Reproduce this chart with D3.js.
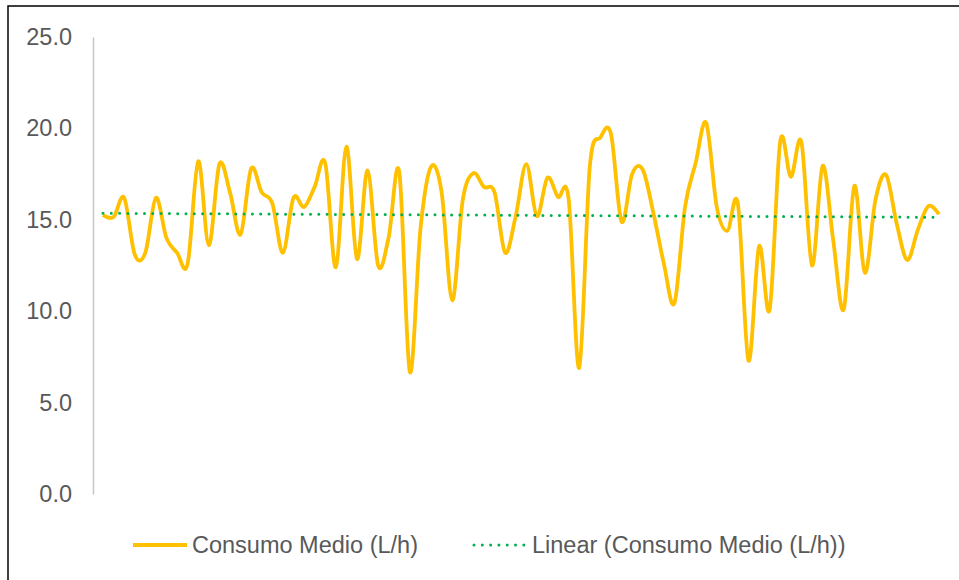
<!DOCTYPE html>
<html>
<head>
<meta charset="utf-8">
<script src="https://cdn.jsdelivr.net/npm/d3@7"></script>
<style>
  body { margin: 0; background: #fff; }
  text { font-family: "Liberation Sans", Arial, sans-serif; }
</style>
</head>
<body>
<svg id="chart" width="959" height="580"></svg>
<script>
// consumo medio (L/h), one value per sample
var consumo = [
  15.26, 15.15, 16.2, 13.1, 13.2, 16.2, 14.0, 13.2, 12.6, 18.2,
  13.6, 18.05, 16.5, 14.2, 17.8, 16.5, 15.9, 13.2, 16.2, 15.7,
  16.8, 18.1, 12.4, 19.0, 12.85, 17.7, 12.5, 14.06, 17.6, 6.67,
  14.5, 17.9, 16.5, 10.6, 16.1, 17.55, 16.8, 16.5, 13.2, 15.2,
  18.05, 15.2, 17.3, 16.25, 16.15, 6.9, 17.9, 19.5, 19.7, 14.9,
  17.5, 17.75, 15.4, 12.6, 10.45, 15.7, 18.1, 20.3, 15.7, 14.4,
  15.85, 7.3, 13.55, 10.1, 19.3, 17.35, 19.25, 12.5, 17.95, 13.9,
  10.1, 16.85, 12.1, 16.1, 17.45, 14.8, 12.8, 14.45, 15.75, 15.3
];
var yTicks = [0, 5, 10, 15, 20, 25];
var legendLabels = ["Consumo Medio (L/h)", "Linear (Consumo Medio (L/h))"];

var svg = d3.select('#chart');

var x = d3.scaleLinear().domain([0, consumo.length - 1]).range([103, 939]);
var y = d3.scaleLinear().domain([0, 25]).range([494, 37]);

// outer frame (only top/left visible in the picture)
svg.append('rect')
  .attr('x', 8).attr('y', 6).attr('width', 1200).attr('height', 1200)
  .style('fill', 'none').style('stroke', '#000').style('stroke-width', 1.5);

// y axis
var yAxis = d3.axisLeft(y).tickValues(yTicks).tickSize(0).tickPadding(21)
  .tickFormat(d3.format('.1f'));
var ga = svg.append('g').attr('transform', 'translate(93,0)').call(yAxis);
ga.select('.domain').style('stroke', '#c8c8c8').style('stroke-width', 1.5);
ga.selectAll('text').style('font-size', '23.5px').style('fill', '#595959')
  .style('font-family', '"Liberation Sans", Arial, sans-serif');

// least squares trendline, like the spreadsheet does
var n = consumo.length, sx = 0, sy = 0, sxy = 0, sxx = 0;
consumo.forEach(function(v, i) { sx += i; sy += v; sxy += i * v; sxx += i * i; });
var slope = (n * sxy - sx * sy) / (n * sxx - sx * sx);
var icpt = (sy - slope * sx) / n;
var trend = [[0, icpt], [n - 1, icpt + slope * (n - 1)]];

var line = d3.line()
  .x(function(d, i) { return x(i); })
  .y(function(d) { return y(d); })
  .curve(d3.curveCatmullRom.alpha(0));

svg.append('path')
  .datum(consumo)
  .attr('d', line)
  .style('fill', 'none')
  .style('stroke', '#FFC000')
  .style('stroke-width', 3.8)
  .style('stroke-linejoin', 'round');

svg.append('path')
  .datum(trend)
  .attr('d', d3.line().x(function(d) { return x(d[0]); }).y(function(d) { return y(d[1]); }))
  .style('fill', 'none')
  .style('stroke', '#00B050')
  .style('stroke-width', 3)
  .style('stroke-linecap', 'round')
  .style('stroke-dasharray', '0,8.3');

// legend
var lg = svg.append('g');
lg.append('line').attr('x1', 133).attr('x2', 187).attr('y1', 545).attr('y2', 545)
  .style('stroke', '#FFC000').style('stroke-width', 3.8);
lg.append('text').attr('x', 192).attr('y', 553).text(legendLabels[0])
  .style('font-size', '23.5px').style('fill', '#595959');
lg.append('line').attr('x1', 474).attr('x2', 526).attr('y1', 545).attr('y2', 545)
  .style('stroke', '#00B050').style('stroke-width', 3)
  .style('stroke-linecap', 'round').style('stroke-dasharray', '0,8.3');
lg.append('text').attr('x', 532).attr('y', 553).text(legendLabels[1])
  .style('font-size', '23.5px').style('fill', '#595959');
</script>
</body>
</html>
